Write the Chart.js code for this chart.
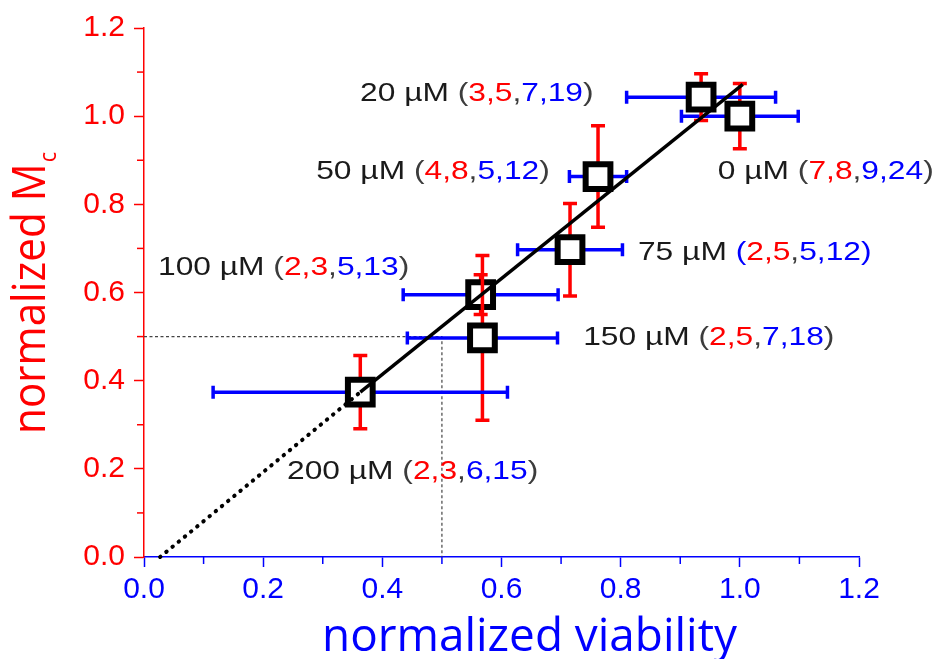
<!DOCTYPE html>
<html><head><meta charset="utf-8">
<script src="https://cdn.jsdelivr.net/npm/chart.js@4/dist/chart.umd.min.js"></script>
<style>html,body{margin:0;padding:0;background:#fff;overflow:hidden}#wrap{width:937px;height:659px;position:relative}</style>
</head><body><div id="wrap"><canvas id="c" width="937" height="659"></canvas></div>
<script>
// ---------- data ----------
const concentrations = ['0 µM','20 µM','50 µM','75 µM','100 µM','150 µM','200 µM'];
const viability    = [1.000, 0.935, 0.762, 0.715, 0.565, 0.568, 0.363];
const viabilityErr = [0.098, 0.125, 0.048, 0.088, 0.130, 0.126, 0.247];
const mcValues     = [1.000, 1.043, 0.863, 0.697, 0.595, 0.497, 0.374];
const mcErr        = [0.074, 0.053, 0.115, 0.105, 0.045, 0.187, 0.083];
const redCounts  = [[7,8],[3,5],[4,8],[2,5],[2,3],[2,5],[2,3]];
const blueCounts = [[9,24],[7,19],[5,12],[5,12],[5,13],[7,18],[6,15]];
const fitSolidX  = [0.363, 1.005];
const fitSolidY  = [0.374, 1.072];
const fitDottedX = [0.027, 0.363];
const fitDottedY = [0.000, 0.374];
const halfGuideX = [0.0, 0.5, 0.5];
const halfGuideY = [0.5, 0.5, 0.0];
const xTickLabels = ['0.0','0.2','0.4','0.6','0.8','1.0','1.2'];
const yTickLabels = ['0.0','0.2','0.4','0.6','0.8','1.0','1.2'];
const minorTicks  = [0.1, 0.3, 0.5, 0.7, 0.9, 1.1];

// ---------- layout / style (not data) ----------
const labelAnchorX = [0.963, 0.3625, 0.289, 0.829, 0.0235, 0.737, 0.240];
const labelAnchorY = [0.874, 1.049, 0.872, 0.690, 0.656, 0.497, 0.192];
const parenBlue    = [false, false, false, true, false, false, false];
const RED = '#ff0000', BLUE = '#0000ff', TXT = '#1a1a1a', PAREN = '#3c3c3c';
const TITLE_FONT = '"Open Sans", "Liberation Sans", sans-serif';
const LABEL_FONT = '"Liberation Sans", Arial, sans-serif';

function pts(xs, ys){ return xs.map((x,i)=>({x:x, y:ys[i]})); }

const datasets = [];
datasets.push({ label:'fit', data: pts(fitSolidX, fitSolidY), showLine:true, borderColor:'#000', borderWidth:3.4,
  pointRadius:0, order:0, clip:false });
datasets.push({ label:'fit extrapolation', data: pts(fitDottedX, fitDottedY), showLine:true, borderColor:'#000', borderWidth:4,
  borderDash:[0.5,7.5], borderCapStyle:'round', pointRadius:0, order:1, clip:false });
concentrations.forEach((c,i)=>{
  datasets.push({ label:c, ptIndex:i, data:[{x:viability[i], y:mcValues[i]}], showLine:false,
    pointStyle:'rect', pointRadius:17.5, pointBorderWidth:6, pointBorderColor:'#000', pointBackgroundColor:'#fff',
    pointHoverRadius:17.5, order: 20 - i, clip:false });
});
datasets.push({ label:'half guide', data: pts(halfGuideX, halfGuideY), showLine:true, borderColor:'#444', borderWidth:1.2,
  borderDash:[3,2.5], pointRadius:0, order:100, clip:false });

const errPlugin = {
  id:'errbars',
  beforeDatasetDraw(chart, args){
    const ds = chart.data.datasets[args.index];
    if (ds.ptIndex === undefined) return;
    const i = ds.ptIndex, ctx = chart.ctx, xs = chart.scales.x, ys = chart.scales.y;
    const cx = xs.getPixelForValue(viability[i]), cy = ys.getPixelForValue(mcValues[i]);
    const xl = xs.getPixelForValue(viability[i]-viabilityErr[i]), xr = xs.getPixelForValue(viability[i]+viabilityErr[i]);
    const yt = ys.getPixelForValue(mcValues[i]+mcErr[i]), yb = ys.getPixelForValue(mcValues[i]-mcErr[i]);
    ctx.save();
    ctx.lineCap='butt';
    ctx.strokeStyle=BLUE; ctx.lineWidth=3.5;
    ctx.beginPath(); ctx.moveTo(xl,cy); ctx.lineTo(xr,cy);
    ctx.moveTo(xl,cy-6.5); ctx.lineTo(xl,cy+6.5); ctx.moveTo(xr,cy-6.5); ctx.lineTo(xr,cy+6.5); ctx.stroke();
    ctx.strokeStyle=RED; ctx.lineWidth=3.5;
    ctx.beginPath(); ctx.moveTo(cx,yt); ctx.lineTo(cx,yb);
    ctx.moveTo(cx-7,yt); ctx.lineTo(cx+7,yt); ctx.moveTo(cx-7,yb); ctx.lineTo(cx+7,yb); ctx.stroke();
    ctx.restore();
  },
  afterDraw(chart){
    const ctx = chart.ctx, xs = chart.scales.x, ys = chart.scales.y, ca = chart.chartArea;
    // minor ticks
    ctx.save();
    ctx.lineWidth=1.5;
    ctx.strokeStyle=BLUE;
    minorTicks.forEach(v=>{ const p=xs.getPixelForValue(v); ctx.beginPath(); ctx.moveTo(p,ca.bottom); ctx.lineTo(p,ca.bottom+7); ctx.stroke(); });
    ctx.strokeStyle=RED;
    minorTicks.forEach(v=>{ const p=ys.getPixelForValue(v); ctx.beginPath(); ctx.moveTo(ca.left,p); ctx.lineTo(ca.left-7,p); ctx.stroke(); });
    ctx.restore();

    // annotation labels
    concentrations.forEach((c,i)=>{
      const r = redCounts[i].join(','), b = blueCounts[i].join(',');
      const pc = parenBlue[i] ? BLUE : PAREN;
      const segs = [[c+' ',TXT],['(',pc],[r,RED],[',',PAREN],[b,BLUE],[')',pc]];
      const x = xs.getPixelForValue(labelAnchorX[i]), y = ys.getPixelForValue(labelAnchorY[i]);
      ctx.save();
      ctx.font = '25px ' + LABEL_FONT;
      ctx.textBaseline='middle'; ctx.textAlign='left';
      ctx.translate(x,y); ctx.scale(1.27,1);
      let cur = 0;
      segs.forEach(([t,col])=>{ ctx.fillStyle=col; ctx.fillText(t,cur,0); cur += ctx.measureText(t).width; });
      ctx.restore();
    });

    // x axis title
    ctx.save();
    ctx.font = '45px ' + TITLE_FONT;
    ctx.fillStyle = BLUE; ctx.textAlign='center'; ctx.textBaseline='alphabetic';
    const xt = 'normalized viability';
    const wx = ctx.measureText(xt).width;
    ctx.translate((ca.left+ca.right)/2 + 28, 651);
    ctx.scale(415/wx, 1);
    ctx.fillText(xt, 0, 0);
    ctx.restore();

    // y axis title with subscript
    ctx.save();
    ctx.fillStyle = RED; ctx.textAlign='left'; ctx.textBaseline='alphabetic';
    ctx.font = '45px ' + TITLE_FONT;
    const mainT = 'normalized M';
    const wm = ctx.measureText(mainT).width;
    ctx.font = '23px ' + TITLE_FONT;
    const ws = ctx.measureText('c').width;
    const total = wm + 1 + ws;
    ctx.translate(45, 293);
    ctx.rotate(-Math.PI/2);
    ctx.scale(282/total, 1);
    ctx.font = '45px ' + TITLE_FONT;
    ctx.fillText(mainT, -total/2, 0);
    ctx.font = '23px ' + TITLE_FONT;
    ctx.fillText('c', -total/2 + wm + 1, 11);
    ctx.restore();
  }
};

new Chart(document.getElementById('c'), {
  type:'scatter',
  data:{ datasets },
  options:{
    responsive:false, animation:false, devicePixelRatio:1,
    layout:{ padding:{ top:28, right:78, left:0, bottom:0 } },
    plugins:{ legend:{display:false}, tooltip:{enabled:false} },
    scales:{
      x:{ type:'linear', min:0, max:1.2,
        ticks:{ stepSize:0.2, autoSkip:false, maxRotation:0, color:BLUE, padding:5,
          font:{ family:'"Liberation Sans", Arial, sans-serif', size:30 },
          callback:(v,i)=>xTickLabels[i] },
        grid:{ drawOnChartArea:false, drawTicks:true, tickLength:10, tickWidth:1.5, tickColor:BLUE, color:BLUE },
        border:{ display:true, color:BLUE, width:1.5 },
        afterFit:(s)=>{ s.height = 102; } },
      y:{ type:'linear', min:0, max:1.2,
        ticks:{ stepSize:0.2, autoSkip:false, color:RED, padding:9,
          font:{ family:'"Liberation Sans", Arial, sans-serif', size:30 },
          callback:(v,i)=>yTickLabels[i] },
        grid:{ drawOnChartArea:false, drawTicks:true, tickLength:10, tickWidth:1.5, tickColor:RED, color:RED },
        border:{ display:true, color:RED, width:1.5 },
        afterFit:(s)=>{ s.width = 144; } }
    }
  },
  plugins:[errPlugin]
});
</script></body></html>
